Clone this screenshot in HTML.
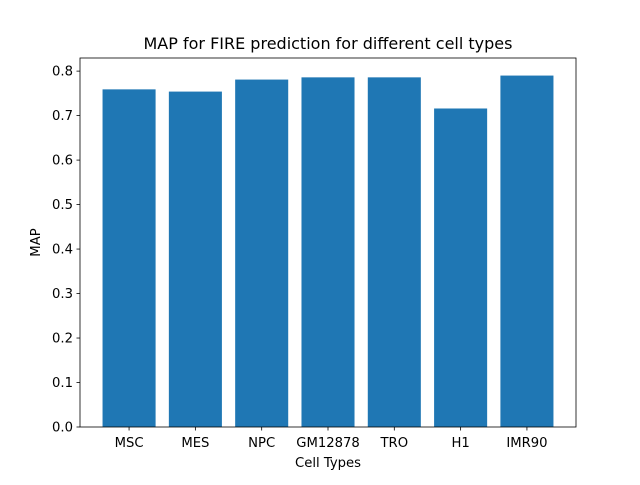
<!DOCTYPE html>
<html><head><meta charset="utf-8"><style>
body{margin:0;background:#fff}
svg text{font-family:"DejaVu Sans","Liberation Sans",sans-serif;fill:#000}
</style></head><body>
<svg id="chart" width="640" height="480"></svg>
<script>
const categories=["MSC","MES","NPC","GM12878","TRO","H1","IMR90"];
const mapValues=[0.759,0.754,0.781,0.786,0.786,0.716,0.790];
const yTicks=[0.0,0.1,0.2,0.3,0.4,0.5,0.6,0.7,0.8];
const L=80,R=576,T=58,B=427;
const xmin=-0.74,xmax=6.74,ymax=0.8295;
const sx=v=>L+(v-xmin)/(xmax-xmin)*(R-L);
const sy=v=>B-v/ymax*(B-T);
const NS="http://www.w3.org/2000/svg";
const svg=document.getElementById('chart');
function mk(tag,attrs,parent){const e=document.createElementNS(NS,tag);for(const k in attrs)e.setAttribute(k,attrs[k]);(parent||svg).appendChild(e);return e;}
mapValues.forEach((v,i)=>{
 const r=mk('rect',{x:sx(i-0.4),y:sy(v),width:sx(i+0.4)-sx(i-0.4),height:B-sy(v),fill:'#1f77b4'});
 
 
});
const frame=mk('rect',{x:L,y:T,width:R-L,height:B-T,fill:'none',stroke:'#000','stroke-width':0.8});


categories.forEach((c,i)=>{
 mk('line',{x1:sx(i),x2:sx(i),y1:B,y2:B+3.5,stroke:'#000','stroke-width':0.8});
 const t=mk('text',{x:sx(i),y:B+20,'text-anchor':'middle','font-size':13.2});
 t.textContent=c;
 
 
});
yTicks.forEach(v=>{
 mk('line',{x1:L-3.5,x2:L,y1:sy(v),y2:sy(v),stroke:'#000','stroke-width':0.8});
 const t=mk('text',{x:L-7,y:sy(v)+4.5,'text-anchor':'end','font-size':13.2});
 t.textContent=v.toFixed(1);
 
 
});
const xt=mk('text',{x:(L+R)/2,y:467,'text-anchor':'middle','font-size':13.2});
xt.textContent='Cell Types';


const yt=mk('text',{x:40,y:(T+B)/2,'text-anchor':'middle','font-size':13.2,transform:'rotate(-90 40 '+((T+B)/2)+')'});
yt.textContent='MAP';


const ti=mk('text',{x:(L+R)/2,y:49,'text-anchor':'middle','font-size':16});
ti.textContent='MAP for FIRE prediction for different cell types';


</script>
</body></html>
